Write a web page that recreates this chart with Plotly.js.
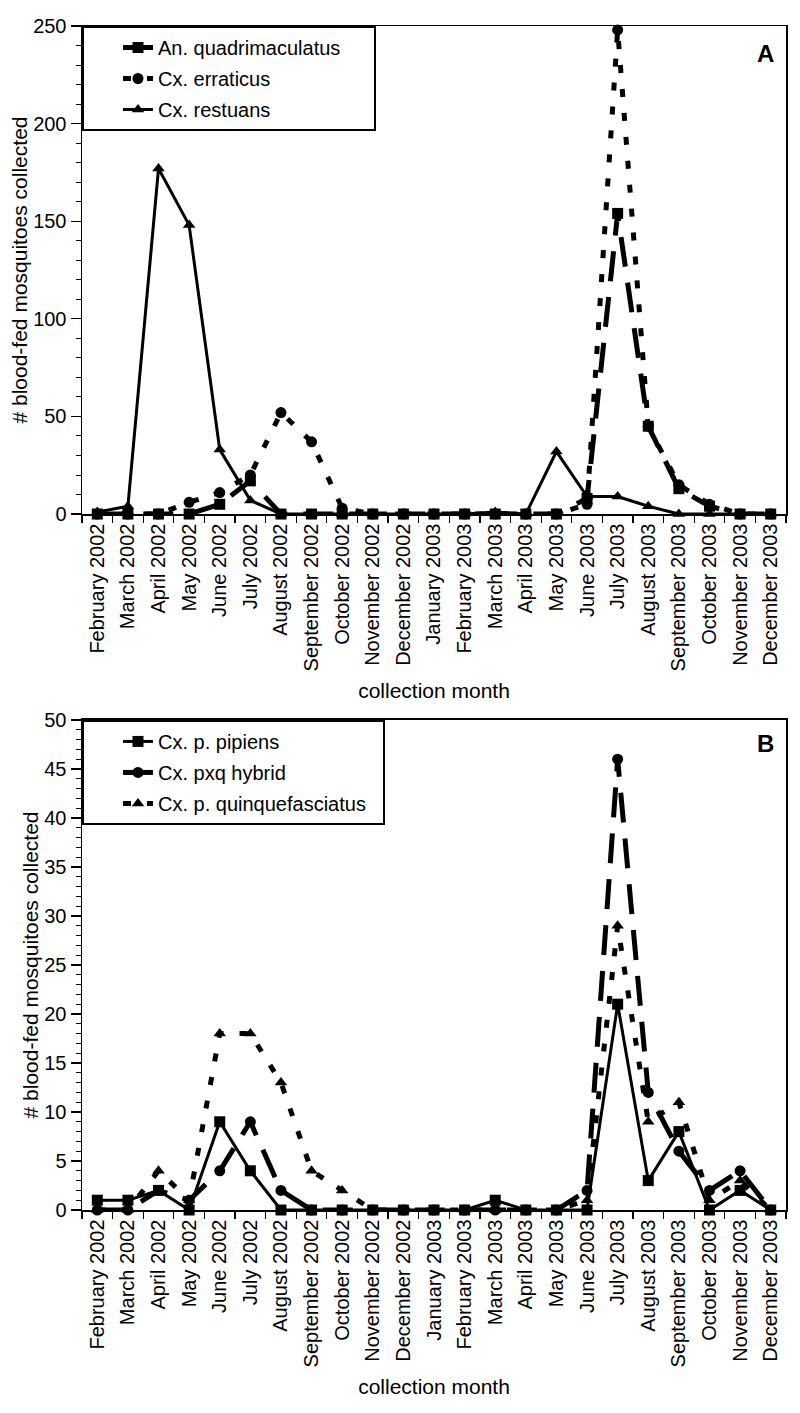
<!DOCTYPE html>
<html>
<head>
<meta charset="utf-8">
<script src="https://cdn.plot.ly/plotly-3.0.1.min.js"></script>
<style>html,body{margin:0;padding:0;background:#fff;}#chart{width:800px;height:1413px;}</style>
</head>
<body>
<div id="chart"></div>
<script>
const months = ["February 2002","March 2002","April 2002","May 2002","June 2002","July 2002","August 2002","September 2002","October 2002","November 2002","December 2002","January 2003","February 2003","March 2003","April 2003","May 2003","June 2003","July 2003","August 2003","September 2003","October 2003","November 2003","December 2003"];

// Panel A
const anQuadrimaculatus = [0,0,0,0,5,17,0,0,0,0,0,0,0,0,0,0,8,154,45,13,4,0,0];
const cxErraticus       = [0,0,0,6,11,20,52,37,3,0,0,0,0,0,0,0,5,248,45,15,5,0,0];
const cxRestuans        = [1,4,177,148,33,7,0,0,0,0,0,0,0,1,0,32,9,9,4,0,0,0,0];

// Panel B
const cxPipiens         = [1,1,2,0,9,4,0,0,0,0,0,0,0,1,0,0,0,21,3,8,0,2,0];
const cxHybrid          = [0,0,2,1,4,9,2,0,0,0,0,0,0,0,0,0,2,46,12,6,2,4,0];
const cxQuinque         = [0,0,4,1,18,18,13,4,2,0,0,0,0,0,0,0,1,29,9,11,1,3,0];

const FONT = "Liberation Sans, Arial, Helvetica, sans-serif";
const BLACK = "#000";
const LONGDASH = "30px,16px";
const DOTDASH = "8px,16px";
const PAD = "\u00A0";

function tr(name, y, xa, ya, symbol, dash, width, legend, group) {
  return {
    type: "scatter", mode: "lines+markers", name: name,
    x: months, y: y, xaxis: xa, yaxis: ya,
    line: {color: BLACK, width: width, dash: dash},
    marker: {color: BLACK, symbol: symbol, size: 11},
    legend: legend, legendgroup: group, cliponaxis: false
  };
}

const data = [
  tr("An. quadrimaculatus" + PAD.repeat(5), anQuadrimaculatus, "x", "y", "square", LONGDASH, 5, "legend", "a1"),
  tr("Cx. erraticus", cxErraticus, "x", "y", "circle", DOTDASH, 5, "legend", "a2"),
  tr("Cx. restuans", cxRestuans, "x", "y", "triangle-up", "solid", 3, "legend", "a3"),
  tr("Cx. p. pipiens", cxPipiens, "x2", "y2", "square", "solid", 3, "legend2", "b1"),
  tr("Cx. pxq hybrid", cxHybrid, "x2", "y2", "circle", LONGDASH, 5, "legend2", "b2"),
  tr("Cx. p. quinquefasciatus" + PAD.repeat(2), cxQuinque, "x2", "y2", "triangle-up", DOTDASH, 5, "legend2", "b3")
];

function xaxis(anchor) {
  return {
    anchor: anchor, type: "category", categoryorder: "array", categoryarray: months,
    range: [-0.5, 22.5], showline: true, linecolor: BLACK, linewidth: 1.5, mirror: true,
    ticks: "outside", tickson: "boundaries", ticklen: 7, tickwidth: 1.2, tickcolor: BLACK,
    tickangle: -90, tickfont: {family: FONT, size: 20, color: BLACK},
    showgrid: false, zeroline: false, fixedrange: true,
    title: {text: "collection month", font: {family: FONT, size: 21, color: BLACK}, standoff: 13}
  };
}
function yaxis(anchor, domain, max, dtick, minor) {
  return {
    anchor: anchor, domain: domain, range: [0, max], dtick: dtick,
    showline: true, linecolor: BLACK, linewidth: 1.5, mirror: true,
    ticks: "outside", ticklen: 10, tickwidth: 1.2, tickcolor: BLACK,
    minor: {dtick: minor, ticks: "outside", ticklen: 5, tickwidth: 1, tickcolor: BLACK, showgrid: false},
    tickfont: {family: FONT, size: 20, color: BLACK},
    showgrid: false, zeroline: false, fixedrange: true,
    title: {text: "# blood-fed mosquitoes collected", font: {family: FONT, size: 21, color: BLACK}, standoff: 0}
  };
}

const legendBase = {
  x: 0, xanchor: "left", yanchor: "top",
  bgcolor: "#fff", bordercolor: BLACK, borderwidth: 2,
  font: {family: FONT, size: 20, color: BLACK},
  traceorder: "grouped", tracegroupgap: 2, indentation: 34, itemclick: false
};

const layout = {
  width: 800, height: 1413,
  margin: {l: 82, r: 14, t: 26, b: 203},
  paper_bgcolor: "#fff", plot_bgcolor: "#fff",
  showlegend: true,
  xaxis: xaxis("y"),
  yaxis: yaxis("x", [0.5878, 1], 250, 50, 10),
  xaxis2: xaxis("y2"),
  yaxis2: yaxis("x2", [0, 0.4139], 50, 5, 1),
  legend: Object.assign({}, legendBase, {y: 1}),
  legend2: Object.assign({}, legendBase, {y: 0.4139}),
  annotations: [
    {text: "<b>A</b>", xref: "paper", yref: "paper", x: 1, y: 1, xanchor: "right", yanchor: "top",
     xshift: -10, yshift: -12, showarrow: false, font: {family: FONT, size: 24, color: BLACK}},
    {text: "<b>B</b>", xref: "paper", yref: "paper", x: 1, y: 0.4139, xanchor: "right", yanchor: "top",
     xshift: -10, yshift: -8, showarrow: false, font: {family: FONT, size: 24, color: BLACK}}
  ]
};

Plotly.newPlot("chart", data, layout, {displayModeBar: false, staticPlot: true});
</script>
</body>
</html>
